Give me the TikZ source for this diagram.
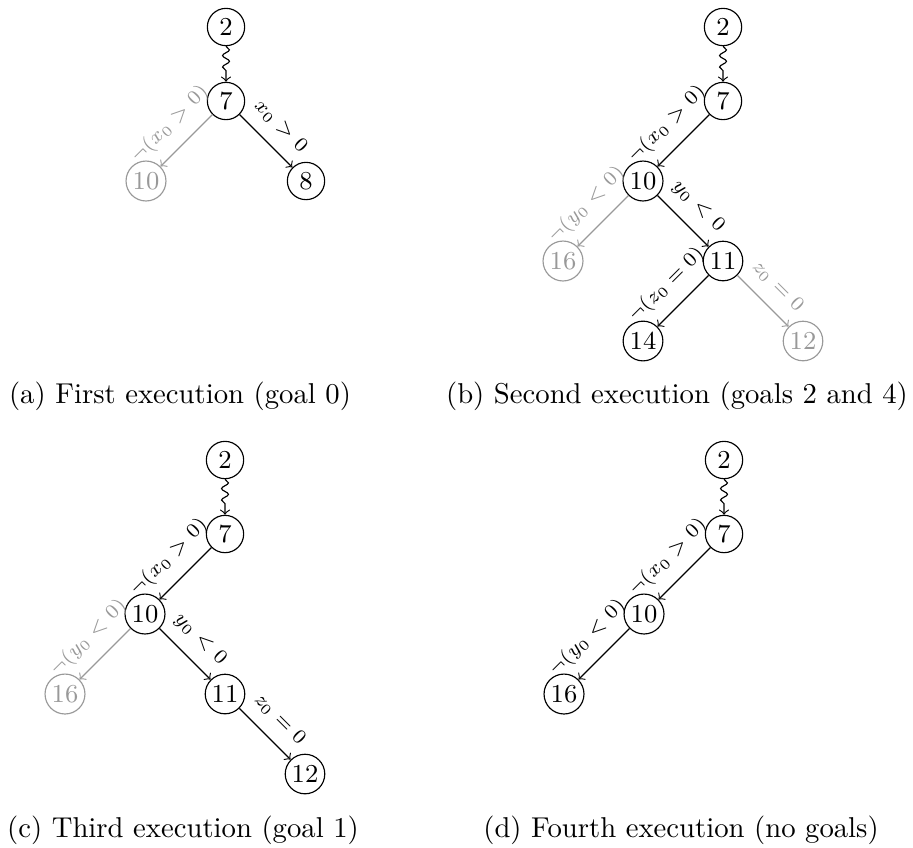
\documentclass[tikz,border=0pt]{standalone}
\usetikzlibrary{decorations.pathmorphing}
\begin{document}
\begin{tikzpicture}[x=0.3484pt,y=-0.3484pt,
  state/.style={circle,draw,minimum size=13pt,inner sep=1pt,font=\small},
  greyed/.style={black!40},
  trans/.style={->},
  guard/.style={font=\scriptsize,sloped,above=1pt},
  reach/.style={->,decorate,decoration={snake,amplitude=1.2pt,segment length=4pt,post length=2pt}},
  subcap/.style={anchor=base,inner sep=0pt}]
\useasboundingbox (0,0) rectangle (913,847);

% (a) first execution
\node[state] (a2) at (226,27) {2};
\node[state] (a7) at (226,101) {7};
\node[state,greyed] (a10) at (146,181) {10};
\node[state] (a8) at (306,181) {8};
\draw[reach] (a2) -- (a7);
\draw[trans,greyed] (a7) -- node[guard] {$\neg(x_0 > 0)$} (a10);
\draw[trans] (a7) -- node[guard] {$x_0 > 0$} (a8);
\node[subcap] (capa) at (180,403) {(a) First execution (goal 0)};

% (b) second execution
\node[state] (b2) at (723,27) {2};
\node[state] (b7) at (723,101) {7};
\node[state] (b10) at (643,181) {10};
\node[state,greyed] (b16) at (563,261) {16};
\node[state] (b11) at (723,261) {11};
\node[state] (b14) at (643,341) {14};
\node[state,greyed] (b12) at (803,341) {12};
\draw[reach] (b2) -- (b7);
\draw[trans] (b7) -- node[guard] {$\neg(x_0 > 0)$} (b10);
\draw[trans,greyed] (b10) -- node[guard] {$\neg(y_0 < 0)$} (b16);
\draw[trans] (b10) -- node[guard] {$y_0 < 0$} (b11);
\draw[trans] (b11) -- node[guard] {$\neg(z_0 = 0)$} (b14);
\draw[trans,greyed] (b11) -- node[guard] {$z_0 = 0$} (b12);
\node[subcap] (capb) at (677,403) {(b) Second execution (goals 2 and 4)};

% (c) third execution
\node[state] (c2) at (225,460) {2};
\node[state] (c7) at (225,534) {7};
\node[state] (c10) at (145,614) {10};
\node[state,greyed] (c16) at (65,694) {16};
\node[state] (c11) at (225,694) {11};
\node[state] (c12) at (305,774) {12};
\draw[reach] (c2) -- (c7);
\draw[trans] (c7) -- node[guard] {$\neg(x_0 > 0)$} (c10);
\draw[trans,greyed] (c10) -- node[guard] {$\neg(y_0 < 0)$} (c16);
\draw[trans] (c10) -- node[guard] {$y_0 < 0$} (c11);
\draw[trans] (c11) -- node[guard] {$z_0 = 0$} (c12);
\node[subcap] (capc) at (183,837) {(c) Third execution (goal 1)};

% (d) fourth execution
\node[state] (d2) at (724,460) {2};
\node[state] (d7) at (724,534) {7};
\node[state] (d10) at (644,614) {10};
\node[state] (d16) at (564,694) {16};
\draw[reach] (d2) -- (d7);
\draw[trans] (d7) -- node[guard] {$\neg(x_0 > 0)$} (d10);
\draw[trans] (d10) -- node[guard] {$\neg(y_0 < 0)$} (d16);
\node[subcap] (capd) at (681,837) {(d) Fourth execution (no goals)};
\end{tikzpicture}
\end{document}
